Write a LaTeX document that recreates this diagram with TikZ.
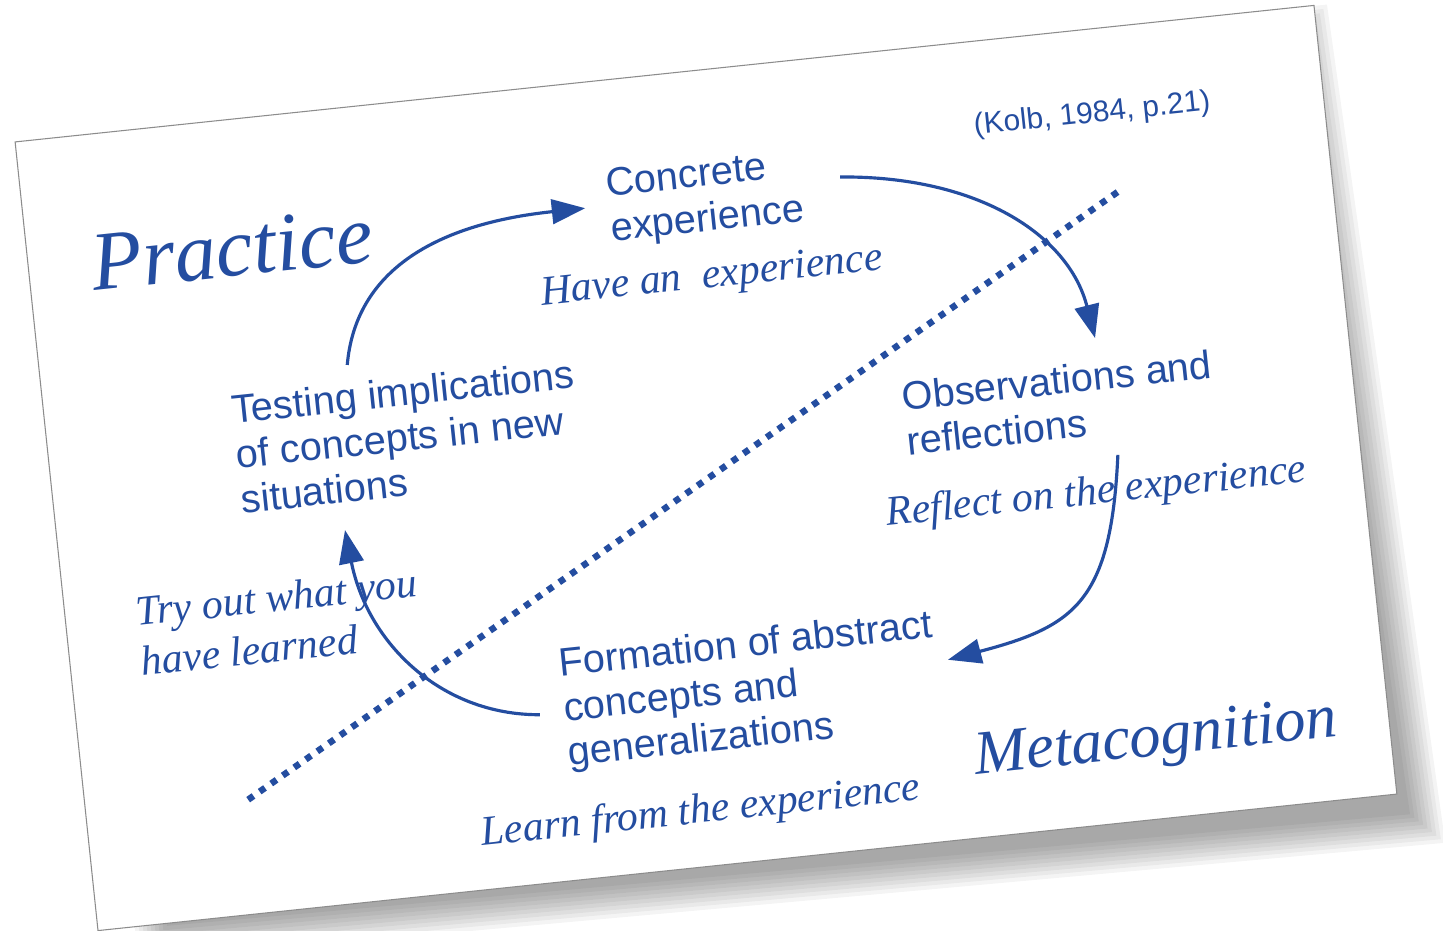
\documentclass[tikz,border=0pt]{standalone}
\usepackage{fontspec}
\setmainfont{Liberation Serif}
\setsansfont{Liberation Sans}
\usetikzlibrary{arrows.meta,calc}
\definecolor{kolbblue}{RGB}{36,77,160}

\begin{document}
\begin{tikzpicture}[x=0.02cm, y=0.02cm,
    stage/.style={font=\sffamily\fontsize{22.6}{25.6}\selectfont, text=kolbblue,
      align=left, inner sep=0pt, anchor=base west},
    hint/.style={font=\fontsize{23.8}{28.4}\selectfont\itshape, text=kolbblue,
      align=left, inner sep=0pt, anchor=base west},
    pole/.style={text=kolbblue, inner sep=0pt, anchor=base west},
    cyclearrow/.style={draw=kolbblue, line width=1.8pt,
      -{Triangle[length=19pt,width=14pt]}}]
  \useasboundingbox (-706,-462) rectangle (737,468);
  \fill[white] (-706,-462) rectangle (737,468);
  \begin{scope}[rotate=6, transform shape]
    % card and its shadow
    \foreach \e in {-16,-12,...,16}
      \fill[black, opacity=0.045] (-600-\e,-415-\e) -- (680+\e,-434-\e)
        -- (650+\e,380+\e) -- (-600-\e,380+\e) -- cycle;
    \filldraw[fill=white, draw=black!45, line width=0.6pt] (-653,-396.5) rectangle (653,396.5);

    \node[pole, font=\fontsize{47.5}{55}\selectfont\itshape] (practice) at (-590,240) {Practice};
    \node[pole, font=\fontsize{35.5}{42}\selectfont\itshape] (meta) at (237,-333) {Metacognition};
    \node[text=kolbblue, inner sep=0pt, font=\sffamily\fontsize{17}{20}\selectfont] (kolb) at (421,311) {(Kolb, 1984, p.21)};

    % base west = baseline of the last line
    \node[stage] (concrete) at (-70,235.5) {Concrete\\experience};
    \node[stage] (observ) at (202,-8.5) {Observations and\\reflections};
    \node[stage] (formation) at (-167,-282) {Formation of abstract\\concepts and\\generalizations};
    \node[stage] (testing) at (-466,3.5) {Testing implications\\of concepts in new\\situations};

    \node[hint] (have) at (-145.5,179) {Have an\ \ experience};
    \node[hint] (reflect) at (174.4,-76.6) {Reflect on the experience};
    \node[hint] (learn) at (-261.8,-352.5) {Learn from the experience};
    \node[hint] (tryout) at (-582,-147.6) {Try out what you\\have learned};

    \coordinate (divlo) at (-490,-282);
    \coordinate (divhi) at (441,233);
    \draw[kolbblue, line width=3.7pt, dash pattern=on 3.7pt off 4.3pt] (divlo) -- (divhi);

    \draw[cyclearrow] ($(concrete.base west)+(233.7,39.9)$)
      .. controls +(136,-13) and +(-15.5,106) .. ($(observ.base west)+(198.5,97.1)$);
    \draw[cyclearrow] ($(observ.base west)+(209,-21.5)$)
      .. controls +(-22,-145) and +(130,20) .. ($(formation.base west)+(387.6,66)$);
    \draw[cyclearrow] ($(formation.base west)+(-24,54)$)
      .. controls +(-99,10) and +(10.5,-114) .. ($(testing.base west)+(100.5,-27.5)$);
    \draw[cyclearrow] ($(testing.base west)+(120,136.5)$)
      .. controls +(18,93) and +(-150,0) .. ($(concrete.base west)+(-23,35.5)$);
  \end{scope}
\end{tikzpicture}
\end{document}
